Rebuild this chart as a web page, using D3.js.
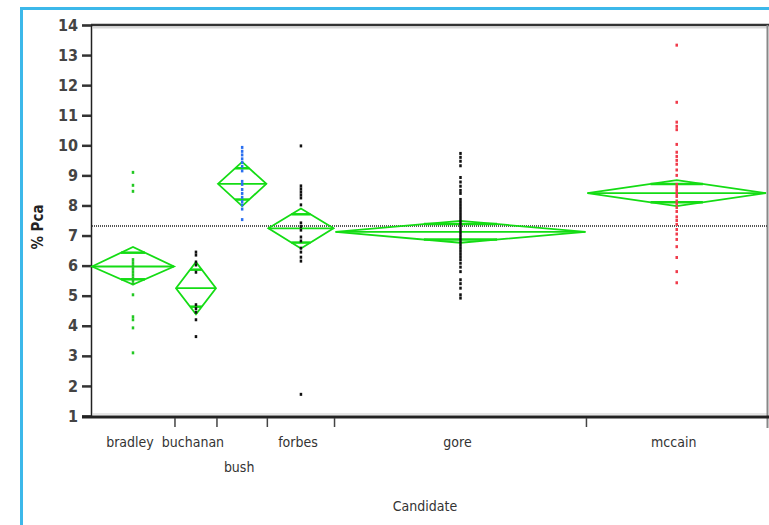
<!DOCTYPE html>
<html>
<head>
<meta charset="utf-8">
<script src="https://cdn.jsdelivr.net/npm/d3@7"></script>
<style>
  body { margin: 0; background: #fff; }
  text { font-family: "Liberation Sans Narrow", "DejaVu Sans Condensed", sans-serif; fill: #333; }
</style>
</head>
<body>
<div id="chart"></div>
<script>
// one entry per candidate; widths on the x axis follow the group sizes
var candidates = ["bradley", "buchanan", "bush", "forbes", "gore", "mccain"]
var groupSizes = [20, 10, 12, 16, 60, 43]
var means = [5.97, 5.25, 8.72, 7.24, 7.12, 8.41]
var ciLower = [5.37, 4.38, 7.98, 6.57, 6.76, 7.98]
var ciUpper = [6.62, 6.12, 9.45, 7.9, 7.49, 8.84]
var labelRow = [0, 0, 1, 0, 0, 0]
var grandMean = 7.32
var yTicks = [1, 2, 3, 4, 5, 6, 7, 8, 9, 10, 11, 12, 13, 14]

var bradleyPts = [9.1, 8.67, 8.47, 6.2, 6.1, 6.0, 5.9, 5.8, 5.7, 5.6, 5.5, 5.4, 5.03, 4.3, 4.2, 3.93, 3.1]
var buchananPts = [6.45, 6.35, 6.12, 6.02, 5.78, 4.7, 4.57, 4.45, 4.2, 3.64]
var bushPts = [9.93, 9.8, 9.68, 9.55, 9.43, 9.3, 9.15, 8.8, 8.7, 8.53, 8.4, 8.27, 8.13, 8.02, 7.88, 7.53]
var forbesPts = [9.98, 8.65, 8.55, 8.45, 8.35, 8.25, 8.02, 7.42, 7.3, 7.18, 6.95, 6.82, 6.58, 6.45, 6.28, 6.15, 1.72]
var gorePts = [9.73, 9.6, 9.47, 9.32, 8.93, 8.78, 8.64, 8.5, 8.4, 8.2, 8.1, 8.0, 7.9, 7.8, 7.7, 7.6,
  7.5, 7.4, 7.3, 7.2, 7.1, 7.0, 6.9, 6.8, 6.7, 6.6, 6.5, 6.4, 6.3, 6.2, 6.08, 5.95, 5.8, 5.53, 5.4, 5.25, 5.03, 4.92]
var mccainPts = [13.33, 11.43, 10.77, 10.63, 10.52, 10.03, 9.77, 9.63, 9.5, 9.37, 9.18, 9.0, 8.7, 8.6, 8.5,
  8.4, 8.3, 8.15, 8.05, 7.93, 7.8, 7.62, 7.5, 7.37, 7.2, 7.05, 6.87, 6.63, 6.27, 5.8, 5.43]
var points = [bradleyPts, buchananPts, bushPts, forbesPts, gorePts, mccainPts]
var pointColors = ["#22c822", "#111", "#2a6ff0", "#111", "#111", "#f03a4a"]

var W = 769, H = 525
var pLeft = 91, pRight = 767, pTop = 25, pBottom = 416
var green = "#14dc14"

var svg = d3.select("#chart").append("svg").attr("width", W).attr("height", H)

// blue frame round the picture
svg.append("line").attr("x1", 21.5).attr("x2", 21.5).attr("y1", 7).attr("y2", H)
  .attr("stroke", "#3cb8ea").attr("stroke-width", 3)
svg.append("line").attr("x1", 20).attr("x2", W).attr("y1", 8.5).attr("y2", 8.5)
  .attr("stroke", "#3cb8ea").attr("stroke-width", 3)

var total = d3.sum(groupSizes)
var cum = [0]
groupSizes.forEach(function(n, i) { cum.push(cum[i] + n) })

var x = d3.scaleLinear().domain([0, total]).range([pLeft, pRight])
var y = d3.scaleLinear().domain([1, 14]).range([pBottom, pTop])

// plot frame
svg.append("line").attr("x1", pLeft).attr("x2", pRight + 2).attr("y1", pTop).attr("y2", pTop)
  .attr("stroke", "#333").attr("stroke-width", 2.5)
svg.append("line").attr("x1", pLeft + 2).attr("x2", pRight).attr("y1", pTop + 2.5).attr("y2", pTop + 2.5)
  .attr("stroke", "#d8d8d8").attr("stroke-width", 2)
svg.append("line").attr("x1", pLeft + 2).attr("x2", pRight).attr("y1", pBottom - 2).attr("y2", pBottom - 2)
  .attr("stroke", "#e6e6e6").attr("stroke-width", 2)
svg.append("line").attr("x1", pRight + 0.5).attr("x2", pRight + 0.5).attr("y1", pTop).attr("y2", pBottom + 12)
  .attr("stroke", "#888").attr("stroke-width", 2)

// y axis
var yAxis = d3.axisLeft(y).tickValues(yTicks).tickSize(9).tickPadding(4).tickFormat(d3.format("d"))
var gy = svg.append("g").attr("transform", "translate(" + pLeft + ",0)").call(yAxis)
gy.select(".domain").attr("stroke", "#222").attr("stroke-width", 1.5)
gy.selectAll(".tick line").attr("stroke", "#333").attr("stroke-width", 2.5)
gy.selectAll(".tick text").attr("font-size", 16).attr("font-weight", "bold").style("fill", "#444")

// x axis: ticks at group boundaries
var gx = svg.append("g")
gx.append("line").attr("x1", pLeft - 9).attr("x2", pRight + 2).attr("y1", pBottom + 1).attr("y2", pBottom + 1)
  .attr("stroke", "#222").attr("stroke-width", 3)
gx.selectAll(".xtick").data(cum.slice(1, cum.length - 1)).enter().append("line")
  .attr("x1", function(d) { return x(d) }).attr("x2", function(d) { return x(d) })
  .attr("y1", pBottom + 2).attr("y2", pBottom + 11)
  .attr("stroke", "#444").attr("stroke-width", 1.5)
gx.selectAll(".xlab").data(candidates).enter().append("text")
  .attr("x", function(d, i) { return (x(cum[i]) + x(cum[i + 1])) / 2 - 3 })
  .attr("y", function(d, i) { return 447 + labelRow[i] * 25 })
  .attr("text-anchor", "middle").attr("font-size", 14)
  .text(function(d) { return d })

svg.append("text").attr("x", 425).attr("y", 511).attr("text-anchor", "middle")
  .attr("font-size", 14).text("Candidate")
svg.append("text").attr("transform", "translate(43,227) rotate(-90)").attr("text-anchor", "middle")
  .attr("font-size", 15).attr("font-weight", "bold").style("fill", "#222").text("% Pca")

// grand mean
svg.append("line").attr("x1", pLeft + 1).attr("x2", pRight).attr("y1", y(grandMean)).attr("y2", y(grandMean))
  .attr("stroke", "#555").attr("stroke-width", 2).attr("stroke-dasharray", "1,1")

// means diamonds
var dg = svg.append("g").attr("fill", "none").attr("stroke", green).attr("stroke-width", 1.8)
candidates.forEach(function(c, i) {
  var x0 = x(cum[i]) + 1, x1 = x(cum[i + 1]) - 1, xm = (x0 + x1) / 2
  var ym = y(means[i]), yt = y(ciUpper[i]), yb = y(ciLower[i])
  dg.append("path").attr("d", "M" + x0 + "," + ym + "L" + xm + "," + yt + "L" + x1 + "," + ym + "L" + xm + "," + yb + "Z")
  dg.append("line").attr("x1", x0).attr("x2", x1).attr("y1", ym).attr("y2", ym)
  // overlap marks
  var f = Math.SQRT1_2
  var half = (x1 - x0) / 2 * (1 - f)
  ;[ym + (yt - ym) * f, ym + (yb - ym) * f].forEach(function(yy) {
    dg.append("line").attr("x1", xm - half).attr("x2", xm + half).attr("y1", yy).attr("y2", yy)
      .attr("stroke-width", 2.5)
  })
})

// points on top
candidates.forEach(function(c, i) {
  var cx = (x(cum[i]) + x(cum[i + 1])) / 2
  svg.append("g").selectAll("rect").data(points[i]).enter().append("rect")
    .attr("x", cx - 1.25).attr("y", function(d) { return y(d) - 1.5 })
    .attr("width", 2.5).attr("height", 3)
    .attr("fill", pointColors[i])
})
</script>
</body>
</html>
